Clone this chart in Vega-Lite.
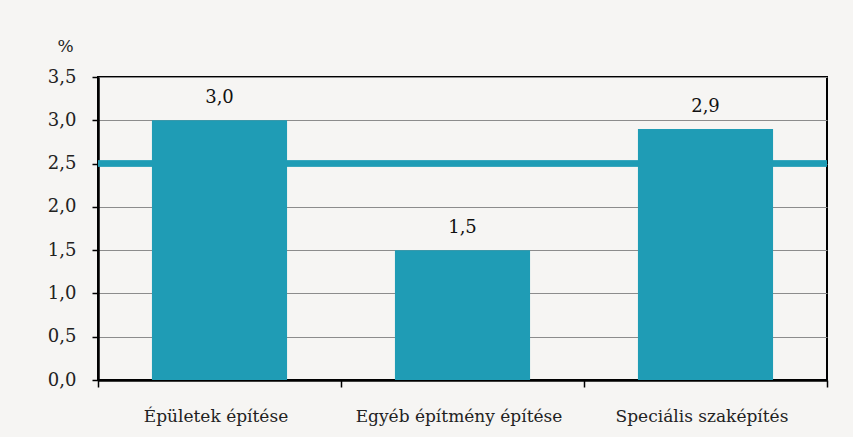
{
  "$schema": "https://vega.github.io/schema/vega-lite/v6.json",
  "width": 729,
  "height": 303,
  "autosize": {"type": "none"},
  "padding": {"left": 98, "top": 77, "right": 26, "bottom": 57},
  "background": "#f6f5f3",
  "config": {
    "view": {"stroke": "#000000", "strokeWidth": 2},
    "font": "DejaVu Serif",
    "axis": {"labelFont": "DejaVu Serif", "titleFont": "DejaVu Serif"},
    "text": {"font": "DejaVu Serif"},
    "locale": {"number": {"decimal": ",", "thousands": " ", "grouping": [3], "currency": ["", " Ft"]}}
  },
  "data": {
    "values": [
      {"category": "Épületek építése", "value": 3.0},
      {"category": "Egyéb építmény építése", "value": 1.5},
      {"category": "Speciális szaképítés", "value": 2.9}
    ]
  },
  "layer": [
    {
      "mark": {"type": "rule", "color": "#1f9cb5", "strokeWidth": 6},
      "encoding": {"y": {"datum": 2.5, "type": "quantitative"}}
    },
    {
      "mark": {"type": "bar", "color": "#1f9cb5", "width": {"band": 0.556}},
      "encoding": {
        "x": {
          "field": "category", "type": "nominal", "sort": null,
          "scale": {"paddingInner": 0, "paddingOuter": 0},
          "axis": {
            "title": null, "labelAngle": 0, "tickBand": "extent", "grid": false,
            "domainColor": "#000000", "domainWidth": 2.5, "tickColor": "#000000",
            "tickSize": 7, "tickWidth": 1.5, "labelPadding": 21, "labelFontSize": 17,
            "labelColor": "#222222", "labelOffset": -4, "labelLimit": 0
          }
        },
        "y": {
          "field": "value", "type": "quantitative",
          "scale": {"domain": [0, 3.5], "nice": false},
          "axis": {
            "values": [0, 0.5, 1, 1.5, 2, 2.5, 3, 3.5], "format": ".1f",
            "grid": true, "gridColor": "#8c8c8c", "gridWidth": 1.2,
            "domainColor": "#000000", "domainWidth": 2.5, "tickColor": "#000000",
            "tickSize": 6, "tickWidth": 1.5, "labelPadding": 16, "labelFontSize": 18,
            "labelColor": "#222222",
            "title": "%", "titleAngle": 0, "titleX": -33, "titleY": -26,
            "titleAlign": "center", "titleBaseline": "alphabetic",
            "titleFontWeight": "normal", "titleFontSize": 17, "titleColor": "#222222"
          }
        }
      }
    },
    {
      "mark": {"type": "text", "dy": -17, "baseline": "alphabetic", "fontSize": 18, "color": "#111111"},
      "encoding": {
        "x": {"field": "category", "type": "nominal", "sort": null},
        "y": {"field": "value", "type": "quantitative"},
        "text": {"field": "value", "type": "quantitative", "format": ".1f"}
      }
    }
  ]
}
